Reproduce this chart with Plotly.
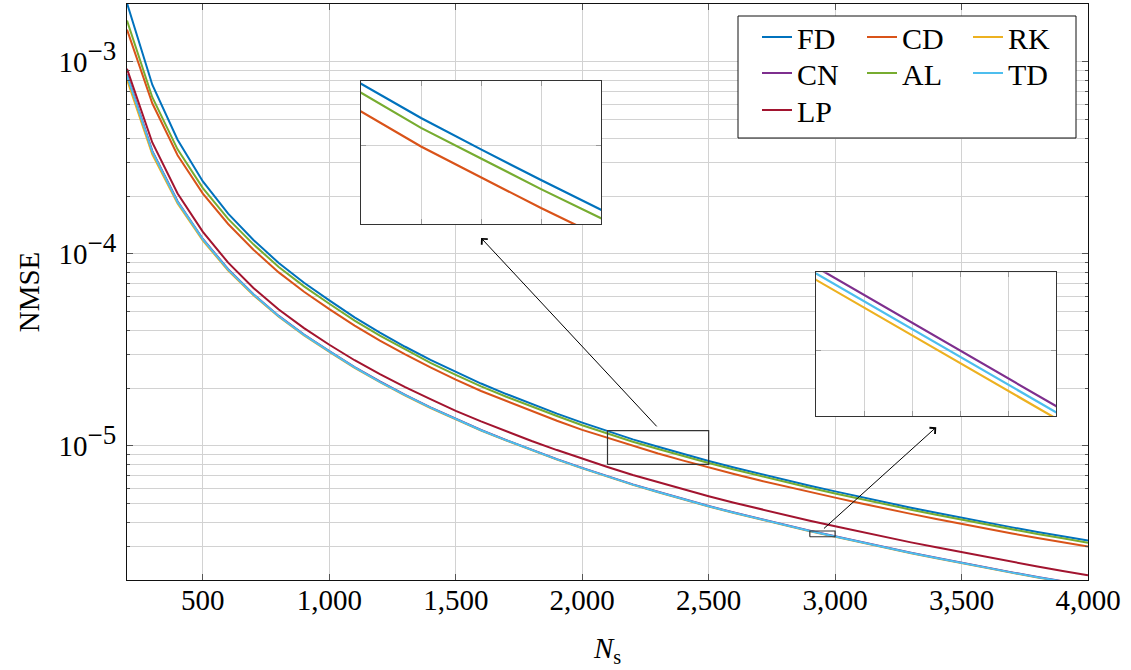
import math
import plotly.graph_objects as go

# ---------------- data ----------------
N_s = [200, 300, 400, 500, 600, 700, 800, 900, 1000, 1100, 1200, 1300, 1400,
       1500, 1600, 1700, 1800, 1900, 2000, 2100, 2200, 2300, 2400, 2500, 2600,
       2700, 2800, 2900, 3000, 3100, 3200, 3300, 3400, 3500, 3600, 3700, 3800,
       3900, 4000]

FD = [2.02e-3, 7.60e-4, 3.93e-4, 2.38e-4, 1.62e-4, 1.18e-4, 8.96e-5, 7.07e-5,
      5.72e-5, 4.67e-5, 3.89e-5, 3.28e-5, 2.80e-5, 2.42e-5, 2.11e-5, 1.86e-5,
      1.65e-5, 1.47e-5, 1.32e-5, 1.19e-5, 1.08e-5, 9.88e-6, 9.06e-6, 8.33e-6,
      7.70e-6, 7.14e-6, 6.64e-6, 6.19e-6, 5.79e-6, 5.41e-6, 5.07e-6, 4.76e-6,
      4.48e-6, 4.22e-6, 3.98e-6, 3.76e-6, 3.56e-6, 3.38e-6, 3.21e-6]

CD = [1.47e-3, 6.08e-4, 3.26e-4, 2.06e-4, 1.43e-4, 1.05e-4, 8.00e-5, 6.34e-5,
      5.15e-5, 4.23e-5, 3.53e-5, 2.99e-5, 2.56e-5, 2.21e-5, 1.93e-5, 1.71e-5,
      1.51e-5, 1.35e-5, 1.21e-5, 1.10e-5, 9.96e-6, 9.12e-6, 8.37e-6, 7.71e-6,
      7.13e-6, 6.61e-6, 6.15e-6, 5.73e-6, 5.37e-6, 5.02e-6, 4.70e-6, 4.42e-6,
      4.16e-6, 3.92e-6, 3.70e-6, 3.49e-6, 3.31e-6, 3.14e-6, 2.99e-6]

RK = [8.070e-4, 3.298e-4, 1.826e-4, 1.171e-4, 8.178e-5, 6.080e-5, 4.697e-5,
      3.759e-5, 3.084e-5, 2.548e-5, 2.146e-5, 1.827e-5, 1.574e-5, 1.371e-5,
      1.202e-5, 1.065e-5, 9.480e-6, 8.475e-6, 7.623e-6, 6.884e-6, 6.258e-6,
      5.725e-6, 5.250e-6, 4.827e-6, 4.462e-6, 4.138e-6, 3.848e-6, 3.587e-6,
      3.356e-6, 3.135e-6, 2.938e-6, 2.758e-6, 2.596e-6, 2.445e-6, 2.306e-6,
      2.179e-6, 2.063e-6, 1.959e-6, 1.860e-6]

CN = [8.585e-4, 3.435e-4, 1.879e-4, 1.195e-4, 8.311e-5, 6.160e-5, 4.749e-5,
      3.797e-5, 3.112e-5, 2.569e-5, 2.163e-5, 1.840e-5, 1.585e-5, 1.379e-5,
      1.209e-5, 1.071e-5, 9.537e-6, 8.526e-6, 7.669e-6, 6.926e-6, 6.296e-6,
      5.760e-6, 5.282e-6, 4.856e-6, 4.489e-6, 4.163e-6, 3.871e-6, 3.609e-6,
      3.376e-6, 3.154e-6, 2.956e-6, 2.775e-6, 2.612e-6, 2.460e-6, 2.320e-6,
      2.192e-6, 2.075e-6, 1.971e-6, 1.871e-6]

AL = [1.64e-3, 6.54e-4, 3.50e-4, 2.20e-4, 1.52e-4, 1.12e-4, 8.54e-5, 6.77e-5,
      5.49e-5, 4.49e-5, 3.75e-5, 3.17e-5, 2.70e-5, 2.34e-5, 2.04e-5, 1.80e-5,
      1.60e-5, 1.43e-5, 1.28e-5, 1.16e-5, 1.05e-5, 9.63e-6, 8.83e-6, 8.13e-6,
      7.52e-6, 6.97e-6, 6.48e-6, 6.04e-6, 5.65e-6, 5.28e-6, 4.95e-6, 4.65e-6,
      4.37e-6, 4.12e-6, 3.88e-6, 3.67e-6, 3.47e-6, 3.30e-6, 3.13e-6]

TD = [8.499e-4, 3.401e-4, 1.864e-4, 1.188e-4, 8.269e-5, 6.135e-5, 4.730e-5,
      3.782e-5, 3.100e-5, 2.559e-5, 2.154e-5, 1.834e-5, 1.580e-5, 1.375e-5,
      1.205e-5, 1.068e-5, 9.508e-6, 8.500e-6, 7.646e-6, 6.905e-6, 6.277e-6,
      5.743e-6, 5.266e-6, 4.841e-6, 4.476e-6, 4.151e-6, 3.859e-6, 3.598e-6,
      3.366e-6, 3.145e-6, 2.947e-6, 2.767e-6, 2.604e-6, 2.453e-6, 2.313e-6,
      2.185e-6, 2.069e-6, 1.965e-6, 1.865e-6]

LP = [9.19e-4, 3.80e-4, 2.06e-4, 1.30e-4, 8.99e-5, 6.64e-5, 5.13e-5, 4.10e-5,
      3.36e-5, 2.79e-5, 2.36e-5, 2.02e-5, 1.75e-5, 1.52e-5, 1.34e-5, 1.19e-5,
      1.06e-5, 9.50e-6, 8.57e-6, 7.75e-6, 7.04e-6, 6.45e-6, 5.93e-6, 5.46e-6,
      5.05e-6, 4.69e-6, 4.36e-6, 4.07e-6, 3.81e-6, 3.57e-6, 3.34e-6, 3.14e-6,
      2.96e-6, 2.79e-6, 2.63e-6, 2.48e-6, 2.35e-6, 2.23e-6, 2.12e-6]

names = ["FD", "CD", "RK", "CN", "AL", "TD", "LP"]
colors = {"FD": "#0072BD", "CD": "#D95319", "RK": "#EDB120", "CN": "#7E2F8E",
          "AL": "#77AC30", "TD": "#4DBEEE", "LP": "#A2142F"}
values = {"FD": FD, "CD": CD, "RK": RK, "CN": CN, "AL": AL, "TD": TD, "LP": LP}

x_range = [200, 4000]
y_range = [2e-6, 2e-3]
x_ticks = [500, 1000, 1500, 2000, 2500, 3000, 3500, 4000]
y_ticks = [1e-5, 1e-4, 1e-3]
y_exponents = ["\u22125", "\u22124", "\u22123"]
y_minor = [m * 10.0 ** e for e in (-6, -5, -4) for m in range(2, 10)]

inset1_x = [2100, 2500]
inset1_y = [8e-6, 1.2e-5]
inset1_xticks = [2200, 2300, 2400]
inset1_yticks = [1e-5]

inset2_x = [2900, 3000]
inset2_y = [3.36e-6, 3.60e-6]
inset2_xticks = [2920, 2940, 2960, 2980]
inset2_yticks = [3.467e-6]

FONT = "'Liberation Serif', 'Times New Roman', 'DejaVu Serif', serif"
FS = 29
GRID = "#d2d2d2"

W, H = 1131, 670
ML, MR, MT, MB = 127, 43, 4, 90
PW, PH = W - ML - MR, H - MT - MB


def px_x(p):
    return (p - ML) / PW


def px_y(p):
    return (H - MB - p) / PH


# legend grid: 3 columns x 3 rows (pixel positions of item start / row centre)
legend_cols = [757, 862, 968]
legend_rows = [37, 73, 110]
legend_slot = {"FD": (0, 0), "CD": (0, 1), "RK": (0, 2),
               "CN": (1, 0), "AL": (1, 1), "TD": (1, 2),
               "LP": (2, 0)}
legend_id = {n: ("legend" if i == 0 else "legend%d" % (i + 1))
             for i, n in enumerate(names)}

fig = go.Figure()

# main curves
for n in names:
    fig.add_trace(go.Scatter(x=N_s, y=values[n], mode="lines", name=n,
                             line=dict(color=colors[n], width=2),
                             legend=legend_id[n], xaxis="x", yaxis="y"))

# zoom rectangles in the main plot
for (xr, yr) in [(inset1_x, inset1_y), (inset2_x, inset2_y)]:
    fig.add_trace(go.Scatter(x=[xr[0], xr[1], xr[1], xr[0], xr[0]],
                             y=[yr[0], yr[0], yr[1], yr[1], yr[0]],
                             mode="lines", line=dict(color="#333333", width=1.2),
                             showlegend=False, hoverinfo="skip",
                             xaxis="x", yaxis="y"))

# inset curves
for ax_id in ("2", "3"):
    for n in names:
        fig.add_trace(go.Scatter(x=N_s, y=values[n], mode="lines", name=n,
                                 line=dict(color=colors[n], width=2.2),
                                 showlegend=False, hoverinfo="skip",
                                 xaxis="x" + ax_id, yaxis="y" + ax_id))

common_axis = dict(showline=True, linecolor="#111111", linewidth=1,
                   mirror="allticks", zeroline=False, showgrid=True,
                   gridcolor=GRID, gridwidth=1, ticks="inside",
                   tickcolor="#555555",
                   tickfont=dict(family=FONT, size=FS, color="black"))

inset_axis = dict(showline=True, linecolor="#333333", linewidth=1.3,
                  mirror="allticks", zeroline=False, showgrid=True,
                  gridcolor=GRID, gridwidth=1.2, ticks="inside", ticklen=5,
                  tickcolor="#999999", showticklabels=False)

y_ticktext = ["10<sup><span style='font-size:27px'>%s</span></sup>" % e
              for e in y_exponents]

layout = dict(
    width=W, height=H,
    margin=dict(l=ML, r=MR, t=MT, b=MB, autoexpand=False),
    paper_bgcolor="white", plot_bgcolor="white",
    font=dict(family=FONT, size=FS, color="black"),
    showlegend=True,
    xaxis=dict(common_axis, range=x_range, tickvals=x_ticks, tickformat=",d",
               ticklen=6, ticklabelstandoff=-6, automargin=False,
               title=dict(text="<i>N</i><sub>s</sub>", standoff=22,
                          font=dict(family=FONT, size=FS))),
    yaxis=dict(common_axis, type="log",
               range=[math.log10(y_range[0]), math.log10(y_range[1])],
               tickvals=y_ticks, ticktext=y_ticktext, ticklen=6,
               ticklabelstandoff=4, automargin=False,
               minor=dict(tickvals=y_minor, ticks="inside", ticklen=3,
                          tickcolor="#555555", showgrid=True,
                          gridcolor=GRID, gridwidth=1),
               title=dict(text="NMSE", standoff=10,
                          font=dict(family=FONT, size=FS))),
    xaxis2=dict(inset_axis, domain=[px_x(361), px_x(601)], anchor="y2",
                range=inset1_x, tickvals=inset1_xticks),
    yaxis2=dict(inset_axis, domain=[px_y(224), px_y(80.7)], anchor="x2",
                type="log",
                range=[math.log10(inset1_y[0]), math.log10(inset1_y[1])],
                tickvals=inset1_yticks),
    xaxis3=dict(inset_axis, domain=[px_x(816), px_x(1056)], anchor="y3",
                range=inset2_x, tickvals=inset2_xticks),
    yaxis3=dict(inset_axis, domain=[px_y(416), px_y(272.3)], anchor="x3",
                type="log",
                range=[math.log10(inset2_y[0]), math.log10(inset2_y[1])],
                tickvals=inset2_yticks),
)

for n in names:
    r, c = legend_slot[n]
    layout[legend_id[n]] = dict(x=px_x(legend_cols[c]), y=px_y(legend_rows[r]),
                                xanchor="left", yanchor="middle",
                                bgcolor="rgba(0,0,0,0)", borderwidth=0,
                                font=dict(family=FONT, size=30, color="black"))

fig.update_layout(**layout)

# legend frame (opaque box)
fig.add_shape(type="rect", xref="paper", yref="paper",
              x0=px_x(738), x1=px_x(1076), y0=px_y(138), y1=px_y(16),
              line=dict(color="#111111", width=1), fillcolor="white",
              layer="above")

# arrows from zoom rectangles to insets
arrows = [
    dict(head=(1600, 1.21e-4), tail=(2300, 1.24e-5)),
    dict(head=(3400, 1.25e-5), tail=(2950, 3.65e-6)),
]
for a in arrows:
    fig.add_annotation(x=a["head"][0], y=math.log10(a["head"][1]),
                       ax=a["tail"][0], ay=math.log10(a["tail"][1]),
                       xref="x", yref="y", axref="x", ayref="y",
                       text="", showarrow=True, arrowhead=4, arrowsize=1.6,
                       arrowwidth=1, arrowcolor="black", standoff=0)

fig.write_html("out.html")
